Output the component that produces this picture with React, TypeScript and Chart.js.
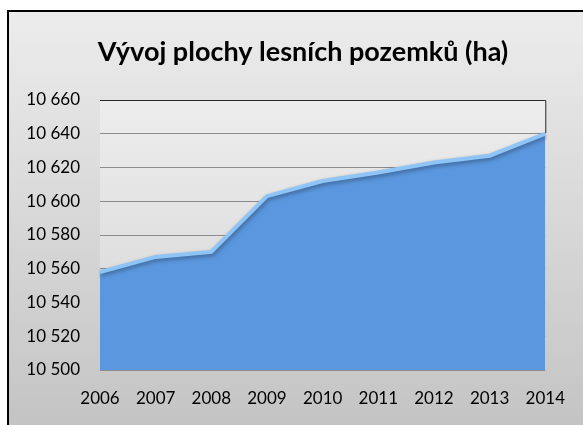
import React, { useEffect, useRef } from "react";
import { Chart, registerables } from "chart.js";

Chart.register(...registerables);

const years = ["2006", "2007", "2008", "2009", "2010", "2011", "2012", "2013", "2014"];
const area = [10558, 10567, 10570, 10603, 10612, 10617, 10623, 10627, 10640];
const yMin = 10500;
const yMax = 10660;
const yStep = 20;
const title = "Vývoj plochy lesních pozemků (ha)";

const fmt = (v: number) => {
  const s = Math.round(v).toString();
  return s.replace(/\B(?=(\d{3})+(?!\d))/g, " ");
};

const framePlugin = {
  id: "frame",
  beforeDraw(chart: any) {
    const { ctx, width, height, chartArea } = chart;
    ctx.save();
    const g = ctx.createLinearGradient(0, 10, 0, height);
    g.addColorStop(0, "#ececec");
    g.addColorStop(1, "#c4c4c4");
    ctx.fillStyle = "#ffffff";
    ctx.fillRect(0, 0, width, height);
    ctx.fillStyle = g;
    ctx.fillRect(7, 10, width, height);
    ctx.strokeStyle = "#000000";
    ctx.lineWidth = 2;
    ctx.beginPath();
    ctx.moveTo(8, height + 2);
    ctx.lineTo(8, 11);
    ctx.lineTo(width + 2, 11);
    ctx.stroke();
    // plot area background
    const pg = ctx.createLinearGradient(0, chartArea.top, 0, chartArea.bottom);
    pg.addColorStop(0, "#ededed");
    pg.addColorStop(1, "#d6d6d6");
    ctx.fillStyle = pg;
    ctx.fillRect(chartArea.left, chartArea.top, chartArea.right - chartArea.left, chartArea.bottom - chartArea.top);
    // title
    ctx.fillStyle = "#000000";
    ctx.font = "bold 27px Lato";
    ctx.textAlign = "center";
    ctx.textBaseline = "middle";
    ctx.fillText(title, 303, 52);
    ctx.restore();
  },
  afterDraw(chart: any) {
    const { ctx, chartArea } = chart;
    ctx.save();
    ctx.strokeStyle = "#2a2a2a";
    ctx.lineWidth = 1;
    ctx.beginPath();
    ctx.moveTo(chartArea.left, chartArea.top + 0.5);
    ctx.lineTo(chartArea.right + 0.5, chartArea.top + 0.5);
    ctx.lineTo(chartArea.right + 0.5, chartArea.top + 33);
    ctx.stroke();
    ctx.restore();
  },
  beforeDatasetsDraw(chart: any) {
    const ctx = chart.ctx;
    ctx.save();
    ctx.shadowColor = "rgba(0,0,0,0.35)";
    ctx.shadowBlur = 4;
    ctx.shadowOffsetX = 1;
    ctx.shadowOffsetY = 2;
  },
  afterDatasetsDraw(chart: any) {
    chart.ctx.restore();
  },
};

export default function App() {
  const ref = useRef<HTMLCanvasElement | null>(null);
  useEffect(() => {
    if (!ref.current) return;
    const chart = new Chart(ref.current, {
      type: "line",
      data: {
        labels: years,
        datasets: [
          {
            data: area,
            fill: "start",
            backgroundColor: "#5b97de",
            borderColor: "#8fc4f6",
            borderWidth: 4,
            pointRadius: 0,
            tension: 0,
          },
        ],
      },
      plugins: [framePlugin],
      options: {
        responsive: false,
        animation: false,
        layout: { padding: { left: 0, right: 33, top: 100, bottom: 0 } },
        plugins: { legend: { display: false }, tooltip: { enabled: false }, title: { display: false } },
        scales: {
          x: {
            type: "category",
            offset: false,
            grid: { display: false, drawTicks: false },
            border: { display: false },
            ticks: {
              color: "#000000",
              font: { family: "Lato", size: 17 },
              padding: 18,
              maxRotation: 0,
              autoSkip: false,
            },
            afterFit: (s: any) => {
              s.height = 55;
            },
          },
          y: {
            min: yMin,
            max: yMax,
            grid: {
              drawTicks: false,
              color: "#8c8c8c",
              lineWidth: 1,
            },
            border: { display: false },
            ticks: {
              stepSize: yStep,
              color: "#000000",
              font: { family: "Lato", size: 17 },
              padding: 20,
              callback: (v: any) => fmt(Number(v)),
            },
            afterFit: (s: any) => {
              s.width = 100;
            },
          },
        },
      },
    });
    return () => chart.destroy();
  }, []);
  return (
    <div style={{ position: "fixed", left: 0, top: 0, width: 583, height: 425 }}>
      <canvas ref={ref} width={583} height={425} style={{ display: "block" }} />
    </div>
  );
}
